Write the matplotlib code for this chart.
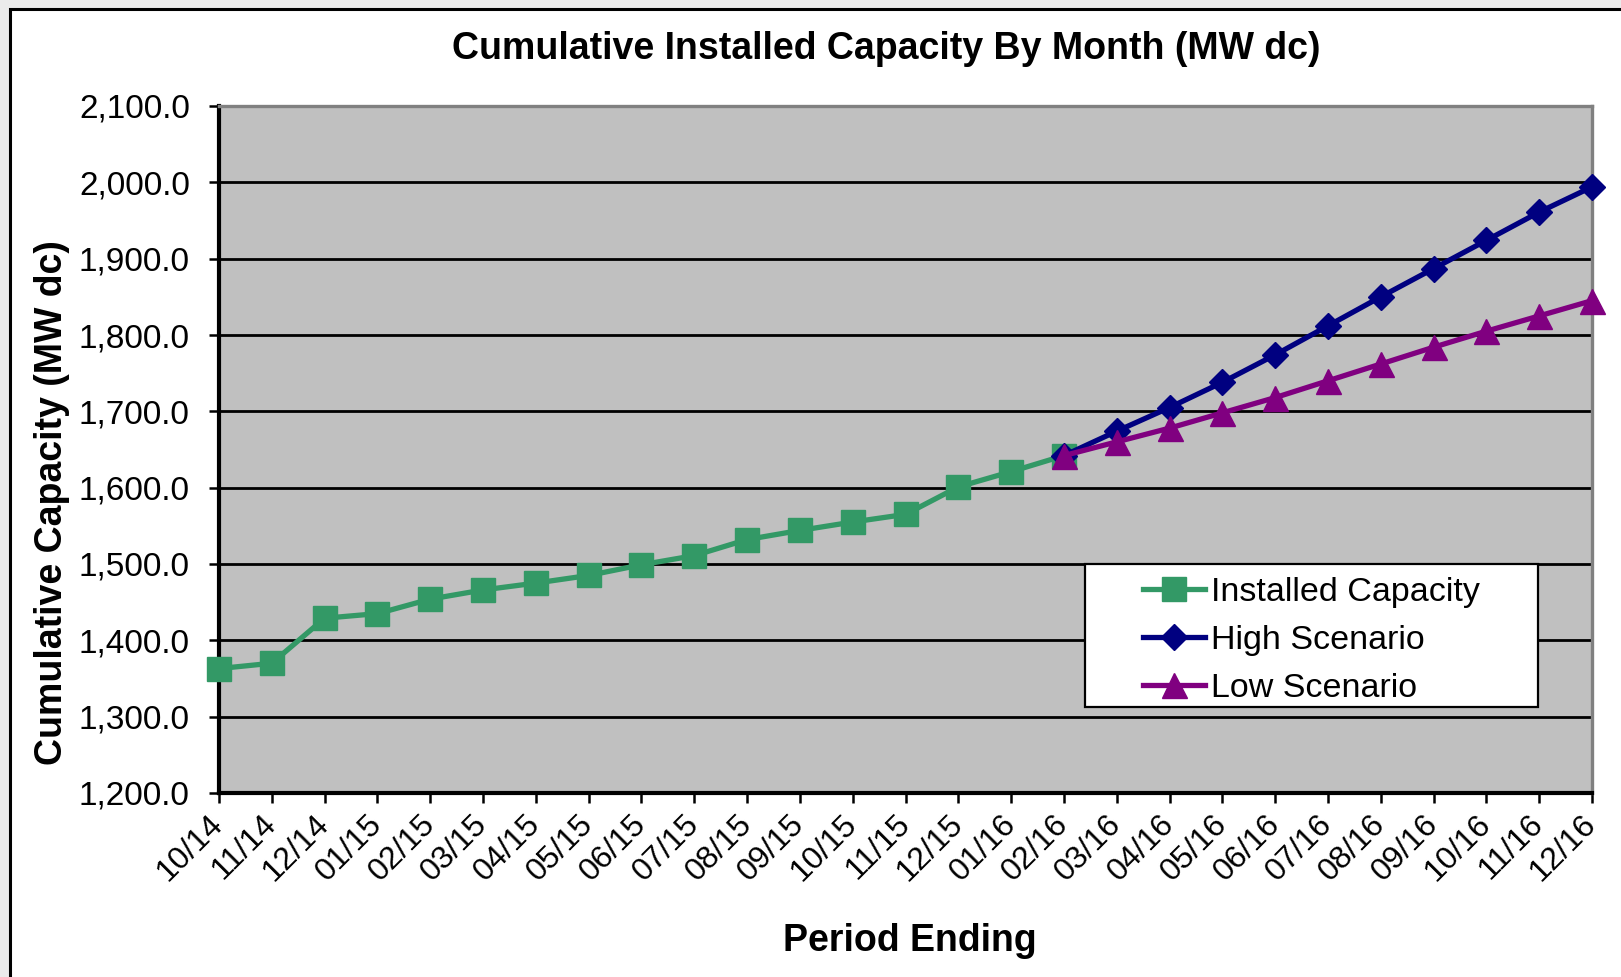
import matplotlib
matplotlib.use("Agg")
import matplotlib.pyplot as plt
import matplotlib.patches as mpatches
import matplotlib.ticker as ticker

plt.rcParams["font.family"] = ["Liberation Sans", "DejaVu Sans"]

# months on the category axis
months = ["10/14", "11/14", "12/14", "01/15", "02/15", "03/15", "04/15", "05/15",
          "06/15", "07/15", "08/15", "09/15", "10/15", "11/15", "12/15", "01/16",
          "02/16", "03/16", "04/16", "05/16", "06/16", "07/16", "08/16", "09/16",
          "10/16", "11/16", "12/16"]

# installed capacity, 10/14 .. 02/16
installed = [1363, 1370, 1429, 1435, 1454, 1466, 1475, 1485, 1499, 1511, 1532,
             1544, 1555, 1565, 1601, 1621, 1642]

# scenarios, 02/16 .. 12/16
high = [1642, 1674, 1705, 1738, 1774, 1812, 1850, 1887, 1924, 1961, 1994]
low = [1642, 1660, 1678, 1698, 1718, 1740, 1762, 1784, 1805, 1825, 1845]

x_inst = list(range(len(installed)))
x_scen = list(range(len(installed) - 1, len(installed) - 1 + len(high)))

fig = plt.figure(figsize=(16.21, 9.77), dpi=100)
fig.patch.set_facecolor("#ebebeb")
# white sheet with the black frame (only top/left edges in view)
fig.patches.append(mpatches.Rectangle((10 / 1621, -0.1), 1.2, 1.1 - 9 / 977,
                                      transform=fig.transFigure, facecolor="white",
                                      edgecolor="black", linewidth=2.2, zorder=-5))

ax = fig.add_axes([219 / 1621, 1 - 793 / 977, 1373 / 1621, 687 / 977])
ax.set_facecolor("#c0c0c0")

ax.plot(x_inst, installed, color="#339966", lw=3.8, marker="s", ms=17,
        label="Installed Capacity", zorder=3, clip_on=False)
ax.plot(x_scen, high, color="#000080", lw=3.8, marker="D", ms=13.5,
        label="High Scenario", zorder=4, clip_on=False)
ax.plot(x_scen, low, color="#800080", lw=3.8, marker="^", ms=18,
        label="Low Scenario", zorder=5, clip_on=False)

ax.set_xlim(0, len(months) - 1)
ax.set_ylim(1200, 2100)
ax.yaxis.set_major_locator(ticker.MultipleLocator(100))
ax.yaxis.set_major_formatter(ticker.FuncFormatter(lambda v, p: "{:,.1f}".format(v)))
ax.set_xticks(range(len(months)))
ax.set_xticklabels(months, rotation=45, ha="right", va="center", rotation_mode="anchor")
ax.grid(axis="y", color="black", lw=2.0, zorder=1)
ax.set_axisbelow(True)

ax.tick_params(axis="y", labelsize=24, length=7, width=1.8, direction="out", pad=14)
ax.tick_params(axis="x", labelsize=23, length=7, width=1.8, direction="out", pad=12)

for s in ["left", "bottom"]:
    ax.spines[s].set_linewidth(3.0)
    ax.spines[s].set_color("black")
for s in ["top", "right"]:
    ax.spines[s].set_linewidth(2.4)
    ax.spines[s].set_color("#808080")

fig.text(886 / 1621, 1 - 49 / 977, "Cumulative Installed Capacity By Month (MW dc)",
         ha="center", va="center", fontsize=27, fontweight="bold")
fig.text(52 / 1621, 1 - 503 / 977, "Cumulative Capacity (MW dc)", rotation=90,
         ha="center", va="center", fontsize=27, fontweight="bold")
fig.text(910 / 1621, 1 - 941 / 977, "Period Ending",
         ha="center", va="center", fontsize=27, fontweight="bold")

# legend box
ax.add_patch(mpatches.Rectangle((0.631, 0.125), 0.33, 0.208, transform=ax.transAxes,
                                facecolor="white", edgecolor="black", lw=1.6, zorder=6))
leg = ax.legend(loc="center", bbox_to_anchor=(0.796, 0.222), frameon=False,
                fontsize=24.5, handlelength=1.8, handletextpad=0.2, labelspacing=0.5,
                borderpad=0.2)
leg.set_zorder(7)

fig.savefig("out.png", dpi=100, facecolor=fig.get_facecolor())
